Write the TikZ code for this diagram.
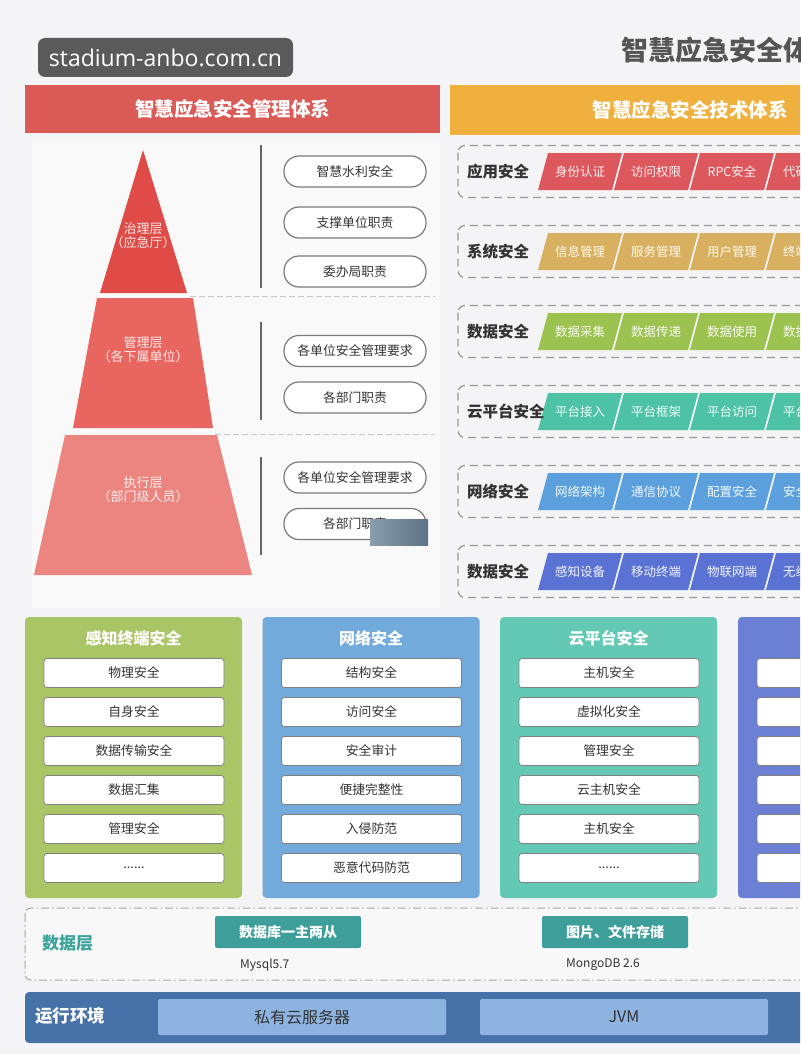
\documentclass[tikz,border=0pt]{standalone}
\usepackage{fontspec}
\setmainfont{Noto Sans CJK SC}
\newfontfamily\wmfont{Open Sans}
\newcommand\myfs[1]{\fontsize{#1}{#1}\selectfont}
\definecolor{bg}{HTML}{F4F4F6}
\definecolor{panel}{HTML}{FAF9FA}
\definecolor{txt}{HTML}{333333}
\definecolor{ttl}{HTML}{555555}
\definecolor{wmc}{HTML}{5A5A5A}
\definecolor{hred}{HTML}{DA5A55}
\definecolor{horg}{HTML}{F0B03E}
\definecolor{py1}{HTML}{E04B47}
\definecolor{py2}{HTML}{E8665F}
\definecolor{py3}{HTML}{EC8580}
\definecolor{pillc}{HTML}{7A7A7A}
\definecolor{dashc}{HTML}{9A9A9A}
\definecolor{r1}{HTML}{DD585D}
\definecolor{r2}{HTML}{D8B060}
\definecolor{r3}{HTML}{9CC24F}
\definecolor{r4}{HTML}{4DC2A5}
\definecolor{r5}{HTML}{5B9FDC}
\definecolor{r6}{HTML}{5A72D4}
\definecolor{c1}{HTML}{A9C566}
\definecolor{c2}{HTML}{72AADB}
\definecolor{c3}{HTML}{63C9B5}
\definecolor{c4}{HTML}{6B80D5}
\definecolor{dtl}{HTML}{3BA59C}
\definecolor{dbox}{HTML}{3E9E9A}
\definecolor{dlfill}{HTML}{F8F8F9}
\definecolor{runc}{HTML}{4672A8}
\definecolor{runbox}{HTML}{8DB4E0}
\definecolor{ovl}{HTML}{8A9DAC}
\definecolor{ovr}{HTML}{5C7284}
\usetikzlibrary{shapes.geometric}
\tikzset{
  hdr/.style={minimum height=48, inner sep=0, text=white, font=\bfseries\myfs{19.5}},
  pill/.style={draw=pillc, line width=1.2pt, fill=white, rounded corners=15, minimum width=142, minimum height=31, inner sep=0, font=\myfs{12.8}, text=txt},
  pyrlabel/.style={align=center, text=white, text opacity=0.85, font=\myfs{13}, inner sep=0},
  vline/.style={draw=black!60, line width=1.2pt},
  sepline/.style={draw=black!22, line width=1pt, dash pattern=on 6pt off 3pt},
  rowbox/.style={draw=dashc, line width=1.3pt, dash pattern=on 8pt off 5pt, rounded corners=7},
  rowlabel/.style={anchor=west, font=\bfseries\myfs{15.5}, text=txt, inner sep=0},
  paratext/.style={text=white, text opacity=0.92, font=\myfs{12.5}, inner sep=0},
  colbox/.style={rounded corners=4, minimum width=217, minimum height=281, inner sep=0},
  coltitle/.style={text=white, font=\bfseries\myfs{16}, inner sep=0},
  itembox/.style={fill=white, draw=black!50, line width=0.7pt, rounded corners=3, minimum width=180, minimum height=29, inner sep=0, font=\myfs{12.8}, text=txt},
  dbbox/.style={fill=dbox, rounded corners=2, minimum width=146, minimum height=32, inner sep=0, text=white, font=\bfseries\myfs{14}},
  dbnote/.style={anchor=west, inner sep=0, text=txt, font=\myfs{12}},
  runboxst/.style={fill=runbox, rounded corners=2, minimum width=288, minimum height=36, inner sep=0, text=txt, font=\myfs{16}},
}
\begin{document}
\begin{tikzpicture}[x=1pt,y=-1pt]
\useasboundingbox (0,0) rectangle (800,1054);
\clip (0,0) rectangle (800,1054);
\fill[bg] (0,0) rectangle (800,1054);

% watermark and title
\node[fill=wmc, rounded corners=7, minimum width=255, minimum height=39, inner sep=0, text=white, font=\wmfont\myfs{23}] (wm) at (165.5,57.5) {stadium-anbo.com.cn};
\node[anchor=west, inner sep=0, text=ttl, font=\bfseries\myfs{27}] (title) at (621,50) {智慧应急安全体系};

% headers
\node[hdr, fill=hred, minimum width=415] (hmgmt) at (232.5,109) {智慧应急安全管理体系};
\node[hdr, fill=horg, minimum width=480, minimum height=50] (htech) at (690,110) {智慧应急安全技术体系};

% left panel
\fill[panel] (32,140) rectangle (440,608);
\fill[py1] (143,150) -- (187,293) -- (100,293) -- cycle;
\fill[py2] (97,298) -- (193,298) -- (213,428) -- (73,428) -- cycle;
\fill[py3] (65,435) -- (217,435) -- (252,575) -- (34,575) -- cycle;
\node[pyrlabel] (l1) at (143,236) {治理层\\[1pt]（应急厅）};
\node[pyrlabel] (l2) at (143,350) {管理层\\[1pt]（各下属单位）};
\node[pyrlabel] (l3) at (143,490) {执行层\\[1pt]（部门级人员）};

\draw[vline] (261,145) -- (261,288);
\draw[vline] (261,322) -- (261,420);
\draw[vline] (261,457) -- (261,555);
\draw[sepline] (190,296) -- (435,296);
\draw[sepline] (215,434) -- (435,434);

\node[pill] (m1) at (355,171.5) {智慧水利安全};
\node[pill] (m2) at (355,222.5) {支撑单位职责};
\node[pill] (m3) at (355,271.5) {委办局职责};
\node[pill] (m4) at (355,351) {各单位安全管理要求};
\node[pill] (m5) at (355,397.5) {各部门职责};
\node[pill] (m6) at (355,477.5) {各单位安全管理要求};
\node[pill] (m7) at (355,524) {各部门职责};
\shade[left color=ovl, right color=ovr] (370,519) rectangle (428,545);

% right rows
\foreach \i/\lab/\col/\a/\b/\c/\d in {
  0/应用安全/r1/身份认证/访问权限/RPC安全/代码,
  1/系统安全/r2/信息管理/服务管理/用户管理/终端,
  2/数据安全/r3/数据采集/数据传递/数据使用/数据,
  3/云平台安全/r4/平台接入/平台框架/平台访问/平台,
  4/网络安全/r5/网络架构/通信协议/配置安全/安全,
  5/数据安全/r6/感知设备/移动终端/物联网端/无线}{
  \pgfmathsetmacro\yc{171.5+80*\i}
  \draw[rowbox] (458,\yc-26) rectangle (840,\yc+26);
  \foreach \k/\t in {0/\a,1/\b,2/\c}{
    \pgfmathsetmacro\bx{538+76*\k}
    \fill[\col] (\bx+10,\yc-18.5) -- (\bx+84,\yc-18.5) -- (\bx+74,\yc+18.5) -- (\bx,\yc+18.5) -- cycle;
    \node[paratext] (p\i-\k) at (\bx+42,\yc) {\t};
  }
  \fill[\col] (776,\yc-18.5) -- (850,\yc-18.5) -- (840,\yc+18.5) -- (766,\yc+18.5) -- cycle;
  \node[paratext, anchor=west] (p\i-3) at (783,\yc) {\d};
  \node[rowlabel] (row\i) at (467,\yc) {\lab};
}

% bottom columns
\foreach \n/\cx/\col/\ttl/\ia/\ib/\ic/\id/\ie/\iff in {
  1/133.5/c1/感知终端安全/物理安全/自身安全/数据传输安全/数据汇集/管理安全/{......},
  2/371/c2/网络安全/结构安全/访问安全/安全审计/便捷完整性/入侵防范/恶意代码防范,
  3/608.5/c3/云平台安全/主机安全/虚拟化安全/管理安全/云主机安全/主机安全/{......},
  4/846.5/c4/{}/{}/{}/{}/{}/{}/{}}{
  \node[colbox, fill=\col] (col\n) at (\cx,757.5) {};
  \node[coltitle] (colt\n) at (\cx,638) {\ttl};
  \foreach \j/\t in {0/\ia,1/\ib,2/\ic,3/\id,4/\ie,5/\iff}{
    \node[itembox] (it\n-\j) at (\cx+0.5,673+39*\j) {\t};
  }
}

% data layer
\draw[draw=black!35, fill=dlfill, line width=1pt, rounded corners=6, dash pattern=on 8pt off 3pt on 1.5pt off 3pt] (25,908) rectangle (840,980);
\node[anchor=west, inner sep=0, text=dtl, font=\bfseries\myfs{17}] (dl) at (42,943) {数据层};
\node[dbbox] (db1) at (288,932) {数据库一主两从};
\node[dbnote] (db1n) at (240,965) {Mysql5.7};
\node[dbbox] (db2) at (615,932) {图片、文件存储};
\node[dbnote] (db2n) at (566,965) {MongoDB 2.6};

% run environment
\fill[runc, rounded corners=4] (25,992) rectangle (840,1043);
\node[anchor=west, inner sep=0, text=white, font=\bfseries\myfs{17.5}] (run) at (35,1016) {运行环境};
\node[runboxst] (rb1) at (302,1017) {私有云服务器};
\node[runboxst] (rb2) at (624,1017) {JVM};
\end{tikzpicture}
\end{document}
